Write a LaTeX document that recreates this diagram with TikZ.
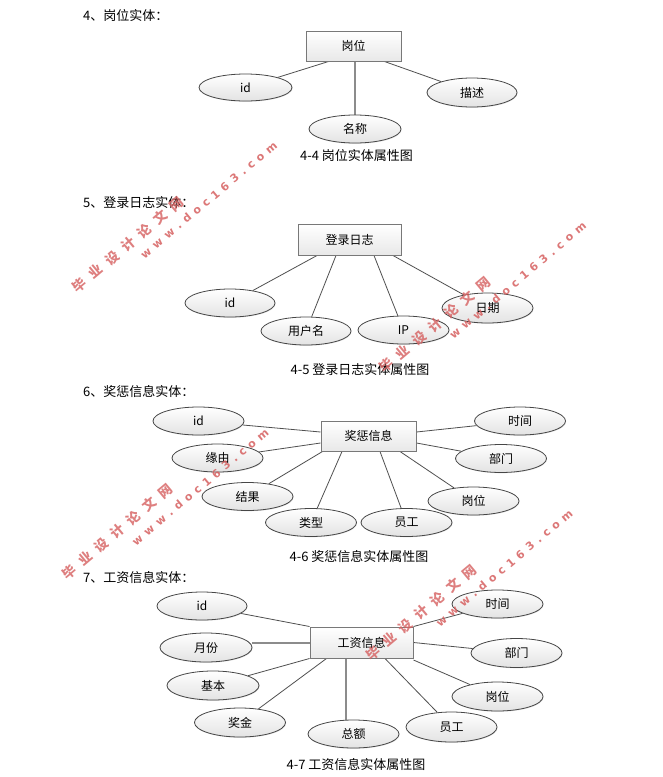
\documentclass[tikz,border=0pt]{standalone}
\usepackage{fontspec}
\setmainfont{Noto Sans CJK SC}
\newfontfamily\wmcjk{Noto Sans CJK SC}
\newfontfamily\wmlat{DejaVu Sans}
\usetikzlibrary{shapes.geometric,shadows}
\pgfdeclarelayer{bg}
\pgfdeclarelayer{paper}
\pgfsetlayers{paper,bg,main}
\definecolor{wmred}{RGB}{214,96,96}
\definecolor{lncol}{RGB}{80,80,80}
\definecolor{lnkcol}{RGB}{140,140,140}
\definecolor{entcol}{RGB}{120,120,120}
\definecolor{attcol}{RGB}{70,70,70}
\newcommand\wmk{\kern5pt}
\newcommand\wmzk{\kern7.5pt}
\newcommand\wmzh{毕\wmzk 业\wmzk 设\wmzk 计\wmzk 论\wmzk 文\wmzk 网}
\newcommand\wmen{w\wmk w\wmk w\wmk .\wmk d\wmk o\wmk c\wmk 1\wmk 6\wmk 3\wmk .\wmk c\wmk o\wmk m}
\tikzset{
  ent/.style={rectangle, draw=entcol, line width=1pt, top color=white, bottom color=gray!18,
    minimum width=95pt, minimum height=30pt, inner sep=0pt,
    font=\fontsize{12}{12}\selectfont,
    drop shadow={shadow xshift=1pt, shadow yshift=-1pt, opacity=0.25}},
  attr/.style={ellipse, draw=attcol, line width=0.8pt, top color=white, bottom color=gray!22,
    minimum width=91pt, minimum height=28pt, inner sep=0pt,
    font=\fontsize{12}{12}\selectfont,
    drop shadow={shadow xshift=0.6pt, shadow yshift=-0.8pt, opacity=0.2}},
  ln/.style={draw=lncol, line width=0.8pt},
  lnk/.style={draw=lnkcol, line width=2pt},
  hd/.style={anchor=west, inner sep=0pt, font=\fontsize{13}{13}\selectfont},
  capt/.style={inner sep=0pt, font=\fontsize{13}{13}\selectfont},
  wmc/.style={text=wmred, opacity=0.8, rotate=40, inner sep=0pt, font=\wmcjk\bfseries\fontsize{13.5}{13.5}\selectfont},
  wme/.style={text=wmred, opacity=0.85, rotate=40, inner sep=0pt, font=\wmlat\bfseries\fontsize{11}{11}\selectfont}
}
\begin{document}
\begin{tikzpicture}[x=1pt,y=-1pt]
\useasboundingbox (0,0) rectangle (663,777);
\begin{pgfonlayer}{paper}
\fill[white] (0,0) rectangle (663,777);
\end{pgfonlayer}

% ---------- 4 ----------
\node[hd] (h1) at (83,15) {4、岗位实体：};
\node[ent] (b1) at (353.5,46) {岗位};
\node[attr, minimum width=93pt, minimum height=27pt] (a1id) at (245.5,87.5) {id};
\node[attr, minimum width=90pt, minimum height=29pt] (a1ms) at (472,92.5) {描述};
\node[attr, minimum width=92pt] (a1mc) at (355,129) {名称};
\node[capt] (c1) at (356.5,156) {4-4 岗位实体属性图};
\begin{pgfonlayer}{bg}
\draw[ln] ([xshift=-25pt]b1.south) -- (a1id);
\draw[ln] ([xshift=31pt]b1.south) -- (a1ms);
\draw[lnk] (b1.south -| a1mc) -- (a1mc);
\end{pgfonlayer}

% ---------- 5 ----------
\node[hd] (h2) at (83,203) {5、登录日志实体：};
\node[ent, minimum width=103pt, minimum height=31pt] (b2) at (349.5,239.5) {登录日志};
\node[attr, minimum width=90pt] (a2id) at (230,303) {id};
\node[attr, minimum width=90pt] (a2user) at (306,331) {用户名};
\node[attr, minimum width=91pt] (a2ip) at (403.5,330) {IP};
\node[attr, minimum width=91pt, minimum height=30pt] (a2date) at (487.5,308) {日期};
\node[capt] (c2) at (360,370) {4-5 登录日志实体属性图};
\begin{pgfonlayer}{bg}
\draw[ln] ([xshift=-32.5pt]b2.south) -- (a2id);
\draw[ln] ([xshift=-13.5pt]b2.south) -- (a2user);
\draw[ln] ([xshift=24.5pt]b2.south) -- (a2ip);
\draw[ln] ([xshift=43.5pt]b2.south) -- (a2date);
\end{pgfonlayer}

% ---------- 6 ----------
\node[hd] (h3) at (83,392) {6、奖惩信息实体：};
\node[ent] (b3) at (368.5,436) {奖惩信息};
\node[attr] (a3id) at (198.5,421) {id};
\node[attr] (a3yy) at (217.5,458) {缘由};
\node[attr] (a3jg) at (247.5,496.5) {结果};
\node[attr] (a3lx) at (311,522.5) {类型};
\node[attr] (a3yg) at (406.5,522.5) {员工};
\node[attr] (a3gw) at (473.5,501) {岗位};
\node[attr] (a3bm) at (501,458.5) {部门};
\node[attr] (a3sj) at (520,421) {时间};
\node[capt] (c3) at (359,557) {4-6 奖惩信息实体属性图};
\begin{pgfonlayer}{bg}
\draw[ln] ([yshift=4pt]b3.west) -- (a3id);
\draw[ln] ([yshift=-7pt]b3.west) -- (a3yy);
\draw[ln] ([xshift=2pt]b3.south west) -- (a3jg);
\draw[ln] ([xshift=-26.5pt]b3.south) -- (a3lx);
\draw[ln] ([xshift=11.5pt]b3.south) -- (a3yg);
\draw[ln] ([xshift=31.5pt]b3.south) -- (a3gw);
\draw[ln] ([yshift=-7pt]b3.east) -- (a3bm);
\draw[ln] ([yshift=4pt]b3.east) -- (a3sj);
\end{pgfonlayer}

% ---------- 7 ----------
\node[hd] (h4) at (83,578) {7、工资信息实体：};
\node[ent, minimum width=103pt, minimum height=31pt] (b4) at (361.5,642.5) {工资信息};
\node[attr, minimum width=90pt] (a4id) at (202,606) {id};
\node[attr, minimum width=92pt, minimum height=29pt] (a4yf) at (206,647.5) {月份};
\node[attr, minimum width=92pt, minimum height=29pt] (a4jb) at (213,685.5) {基本};
\node[attr, minimum width=91pt, minimum height=29pt] (a4jj) at (240,722.5) {奖金};
\node[attr, minimum width=91pt] (a4ze) at (353.5,734) {总额};
\node[attr, minimum width=91pt, minimum height=30pt] (a4yg) at (451.5,727) {员工};
\node[attr, minimum width=91pt, minimum height=29pt] (a4gw) at (497.5,696.5) {岗位};
\node[attr, minimum width=91pt, minimum height=29pt] (a4bm) at (516.5,653) {部门};
\node[attr, minimum width=91pt] (a4sj) at (497.5,604) {时间};
\node[capt] (c4) at (356,765) {4-7 工资信息实体属性图};
\begin{pgfonlayer}{bg}
\draw[ln] (b4.north west) -- (a4id);
\draw[lnk] (b4.west) -- (b4.west -| a4yf.east);
\draw[ln] (b4.south west) -- (a4jb);
\draw[ln] ([xshift=17pt]b4.south west) -- (a4jj);
\draw[lnk] ([xshift=-15.5pt]b4.south) -- ([xshift=-7.5pt]a4ze.north);
\draw[ln] ([xshift=23.5pt]b4.south) -- (a4yg);
\draw[ln] ([yshift=-1.5pt]b4.south east) -- (a4gw);
\draw[ln] (b4.east) -- (a4bm);
\draw[ln] (b4.north east) -- (a4sj);
\end{pgfonlayer}

% ---------- watermarks ----------
\node[wmc] (w1a) at (128,244.5) {\wmzh};
\node[wme] (w1b) at (208.7,199.9) {\wmen};
\node[wmc] (w2a) at (435,325) {\wmzh};
\node[wme] (w2b) at (517.7,280.4) {\wmen};
\node[wmc] (w3a) at (117.5,531.5) {\wmzh};
\node[wme] (w3b) at (200.2,486.9) {\wmen};
\node[wmc] (w4a) at (421.5,612.5) {\wmzh};
\node[wme] (w4b) at (504.2,567.9) {\wmen};
\end{tikzpicture}
\end{document}
